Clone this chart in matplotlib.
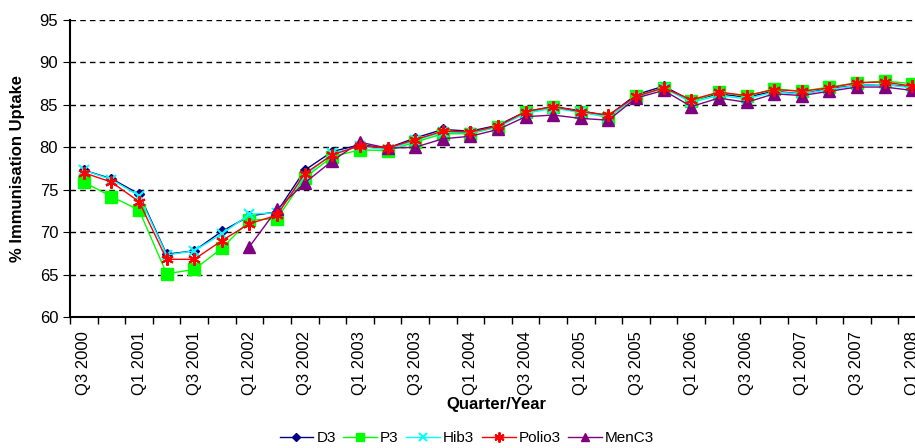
import numpy as np
import matplotlib
matplotlib.use('Agg')
import matplotlib.pyplot as plt

plt.rcParams['font.family'] = ['Liberation Sans', 'DejaVu Sans']

quarters = []
for year in range(2000, 2009):
    for q in (1, 2, 3, 4):
        quarters.append('Q%d %d' % (q, year))
quarters = quarters[2:quarters.index('Q1 2008') + 1]

nan = np.nan
d3 = [77.3, 76.3, 74.5, 67.4, 67.8, 70.1, 71.9, 72.4, 77.3, 79.5, 80.3, 79.9, 81.1, 82.1, 81.9, 82.6,
      84.2, 84.8, 84.3, 83.7, 86.2, 87.2, 85.5, 86.3, 85.9, 86.6, 86.3, 86.9, 87.3, 87.4, 87.1]
p3 = [75.9, 74.2, 72.6, 65.1, 65.6, 68.1, 71.4, 71.6, 76.4, 78.9, 79.7, 79.6, 80.6, 81.6, 81.6, 82.4,
      84.1, 84.7, 84.2, 83.5, 86.0, 87.0, 85.4, 86.5, 86.0, 86.9, 86.6, 87.1, 87.6, 87.8, 87.5]
hib3 = [77.3, 76.2, 74.3, 67.3, 67.8, 69.8, 72.1, 72.3, 76.6, 79.3, 80.1, 79.7, 80.8, 81.8, 81.7, 82.4,
        84.0, 84.6, 84.1, 83.6, 85.9, 87.0, 85.3, 86.1, 85.7, 86.5, 86.3, 86.8, 87.3, 87.4, 87.0]
polio3 = [77.0, 75.9, 73.6, 66.8, 66.8, 69.0, 71.0, 72.0, 76.9, 79.1, 80.2, 79.9, 80.9, 81.9, 81.8, 82.5,
          84.2, 84.8, 84.2, 83.8, 86.0, 87.0, 85.6, 86.5, 86.1, 86.8, 86.6, 87.0, 87.6, 87.7, 87.2]
menc3 = [nan, nan, nan, nan, nan, nan, 68.3, 72.7, 75.8, 78.4, 80.6, 79.9, 80.0, 81.0, 81.3, 82.1,
         83.6, 83.8, 83.4, 83.2, 85.8, 86.7, 84.8, 85.8, 85.3, 86.3, 86.1, 86.6, 87.1, 87.1, 86.7]

x = np.arange(len(quarters))

fig = plt.figure(figsize=(9.15, 4.48), dpi=100)
# axis runs past the right edge of the picture, like the original
ax = fig.add_axes([70 / 915, 131 / 448, 856 / 915, 297 / 448])

ax.plot(x, d3, color='#000080', marker='D', markersize=5, lw=1, label='D3', zorder=3)
ax.plot(x, p3, color='#00FF00', marker='s', markersize=8, lw=1, label='P3', zorder=3)
ax.plot(x, hib3, color='#00FFFF', marker='x', markersize=7, mew=1.5, lw=1, label='Hib3', zorder=3)
ax.plot(x, polio3, color='#FF0000', marker=(6, 2, 0), markersize=9, mew=1.5, lw=1, label='Polio3', zorder=5)
ax.plot(x, menc3, color='#800080', marker='^', markersize=8, lw=1, label='MenC3', zorder=4)

ax.set_xlim(-0.5, len(quarters) - 0.5)
ax.set_ylim(60, 95)
ax.set_yticks(np.arange(60, 96, 5))
ax.yaxis.grid(True, color='black', linestyle=(0, (4, 3)), linewidth=1)
ax.set_axisbelow(True)

ax.set_xticks(x[::2])
ax.set_xticklabels(quarters[::2], rotation=90)
ax.set_xticks(np.arange(-0.5, len(quarters), 1), minor=True)
ax.tick_params(axis='x', which='major', length=0, labelsize=12, pad=10)
ax.tick_params(axis='x', which='minor', length=5, width=1)
ax.tick_params(axis='y', length=5, labelsize=12)

for side in ('top', 'right'):
    ax.spines[side].set_visible(False)
ax.spines['left'].set_linewidth(1.5)
ax.spines['bottom'].set_linewidth(1.5)

fig.text(18 / 915, 1 - 168 / 448, '% Immunisation Uptake', rotation=90, ha='center', va='center',
         fontsize=12, fontweight='bold')
fig.text(496 / 915, 1 - 405 / 448, 'Quarter/Year', ha='center', va='center', fontsize=12, fontweight='bold')

handles, labels = ax.get_legend_handles_labels()
fig.legend(handles, labels, loc='center', bbox_to_anchor=(467 / 915, 1 - 438 / 448), ncol=5,
           frameon=False, fontsize=11, handlelength=2.2, handletextpad=0.2, columnspacing=0.5,
           markerscale=0.8)

plt.savefig('out.png', dpi=100)
